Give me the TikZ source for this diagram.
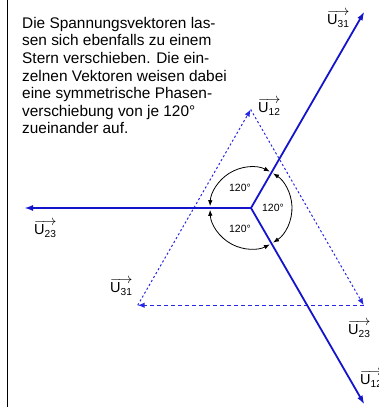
\documentclass[tikz,border=0pt]{standalone}
\usepackage{amsmath}
\usepackage{fontspec}
\setmainfont{Liberation Sans}
\usetikzlibrary{arrows.meta}
\definecolor{vecblue}{HTML}{1414CC}
\definecolor{meshblue}{HTML}{2626E6}
\newcommand{\uvec}[1]{$\overrightarrow{\text{U}_{\text{#1}}}$}

\begin{document}
\begin{tikzpicture}[
  x=1pt, y=1pt,
  vec/.style={-{Latex[length=9pt,width=6pt]}, line width=1.8pt, color=vecblue},
  mesh/.style={-{Latex[length=7pt,width=5.5pt]}, line width=1pt, color=meshblue, dash pattern=on 2.2pt off 2.3pt},
  meshbase/.style={-{Latex[length=7pt,width=5.5pt]}, line width=1pt, color=meshblue, dash pattern=on 4pt off 3pt},
  angarc/.style={{Latex[length=6pt,width=4.5pt]}-{Latex[length=6pt,width=4.5pt]}, line width=0.8pt},
  lbl/.style={anchor=base west, inner sep=0pt, font=\fontsize{14.5}{17}\selectfont},
  deg/.style={inner sep=0pt, font=\fontsize{10.5}{12}\selectfont}
]
\useasboundingbox (0,0) rectangle (379,407);
\draw[line width=1.5pt] (7.3,0) -- (7.3,407);
% text block, anchored at the baseline of its last line
\node[anchor=base west, inner sep=0pt, align=left, font=\fontsize{15.4}{17.6}\selectfont] (txt) at (22,273)
  {Die Spannungsvektoren las-\\sen sich ebenfalls zu einem\\Stern verschieben. Die ein-\\zelnen Vektoren weisen dabei\\eine symmetrische Phasen-\\verschiebung von je 120°\\zueinander auf.};
% dashed triangle
\coordinate (A) at (250.7,297.5);
\coordinate (L) at (137.7,101.75);
\coordinate (R) at (363.7,101.75);
\draw[mesh] (L) -- (A);
\draw[mesh] (A) -- (R);
\draw[meshbase] (R) -- (L);
% star
\coordinate (O) at (251,199);
\path (O) ++(60:227) coordinate (t31);
\path (O) ++(180:227) coordinate (t23);
\path (O) ++(-60:227) coordinate (t12);
\draw[vec] (O) -- (t31);
\draw[vec] (O) -- (t23);
\draw[vec] (O) -- (t12);
\draw[angarc] (O) ++(62.5:41) arc[start angle=62.5, end angle=177.5, radius=41];
\draw[angarc] (O) ++(182.5:41) arc[start angle=182.5, end angle=297.5, radius=41];
\draw[angarc] (O) ++(-57.5:41) arc[start angle=-57.5, end angle=57.5, radius=41];
\node[deg] (aup) at (240,219) {120°};
\node[deg] (aright) at (273,199) {120°};
\node[deg] (alow) at (240,178.5) {120°};
% labels
\node[lbl] (u31a) at (327,382) {\uvec{31}};
\node[lbl] (u12a) at (258,294) {\uvec{12}};
\node[lbl] (u23a) at (34,172) {\uvec{23}};
\node[lbl] (u31b) at (110,114) {\uvec{31}};
\node[lbl] (u23b) at (348,72) {\uvec{23}};
\node[lbl] (u12b) at (360,22) {\uvec{12}};
\end{tikzpicture}
\end{document}
